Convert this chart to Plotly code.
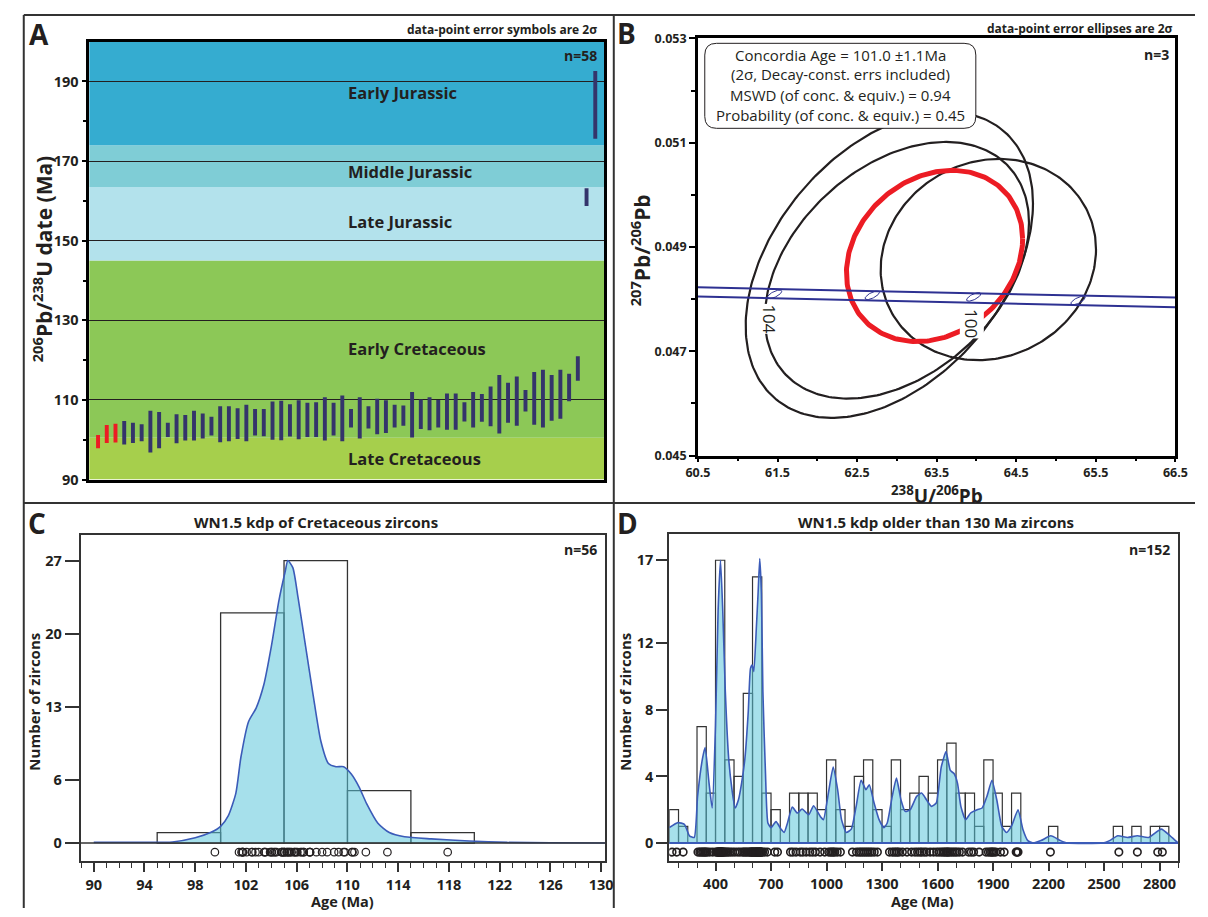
import numpy as np
import plotly.graph_objects as go

W, H = 1208, 917
FONT = "Open Sans"
INK = "#231F20"


def X(p):
    return p / W


def Y(p):
    return 1 - p / H


# ---------------- Panel A data: 206Pb/238U dates (2 sigma bars) ----------------
a_low = [97.9, 99.2, 99.3, 98.8, 99.2, 99.6, 96.8, 97.9, 100.7, 99.1,
         99.8, 99.8, 100.3, 101.1, 99.4, 99.6, 100.2, 99.6, 101.1, 100.9,
         100.0, 99.9, 100.8, 100.1, 100.7, 100.7, 99.8, 101.1, 99.6, 103.1,
         100.3, 102.8, 101.4, 101.7, 103.1, 103.5, 100.6, 102.7, 102.4, 103.1,
         102.5, 102.5, 104.6, 103.1, 104.5, 103.4, 101.6, 104.3, 103.5, 107.1,
         103.8, 103.1, 104.8, 105.3, 109.7, 114.8, 158.7, 175.6]
a_high = [101.2, 103.7, 104.0, 104.7, 104.3, 103.9, 107.3, 107.0, 104.3, 106.4,
          106.2, 107.3, 106.6, 105.8, 108.4, 108.4, 107.9, 108.8, 107.7, 107.7,
          109.6, 109.8, 108.9, 109.9, 109.3, 109.4, 110.7, 109.3, 111.1, 107.7,
          110.7, 108.4, 110.3, 109.9, 108.8, 108.6, 112.0, 110.1, 110.7, 110.0,
          111.6, 111.6, 109.4, 112.0, 111.5, 113.4, 116.3, 114.3, 115.9, 112.5,
          117.0, 117.6, 116.3, 117.6, 116.6, 121.0, 163.2, 192.6]
a_concordant_count = 3          # first three (red) used for the concordia age
a_index = list(range(1, len(a_low) + 1))

period_names = ["Late Cretaceous", "Early Cretaceous", "Late Jurassic",
                "Middle Jurassic", "Early Jurassic"]
period_base = [90, 100.5, 145, 163.5, 174]
period_top = [100.5, 145, 163.5, 174, 200]
period_label_y = [95.2, 122.8, 154.9, 167.5, 187.3]
period_colors = ["#A6CF4C", "#8CC857", "#B3E2EC", "#7FCDD6", "#35ACD0"]

# ---------------- Panel B data: Tera-Wasserburg ----------------
b_cx = [62.905, 63.00, 64.149]
b_cy = [0.048659, 0.048553, 0.048759]
b_ax = [1.805, 1.66, 1.353]
b_ay = [0.002937, 0.002461, 0.00193]
b_rho = [0.40, 0.37, 0.10]
conc_age_ellipse = dict(cx=63.473, cy=0.048828, ax=1.107, ay=0.001642, rho=0.2)
conc_x = [60.5, 66.5]
conc_upper = [0.048227, 0.048030]
conc_lower = [0.048049, 0.047842]
conc_tick_age = [104, 102, 100, 98]
conc_tick_x = [61.463, 62.69, 63.965, 65.276]
conc_tick_y = [0.048092, 0.048073, 0.048043, 0.047974]
conc_label_age = ["104", "100"]
conc_label_x = [61.40, 63.94]
conc_label_y = [0.04762, 0.04753]

# ---------------- Panel C data ----------------
c_bin_left = [95, 100, 105, 110, 115]
c_counts = [1, 22, 27, 5, 1]
c_bin_width = 5
c_kde_age = [90, 94.1, 96.2, 98.0, 99.2, 100.0, 100.6, 101.2, 101.6, 102.2,
             102.8, 103.4, 104.0, 104.6, 105.1, 105.3, 105.7, 106.1, 106.7, 107.3,
             107.9, 108.5, 109.1, 109.7, 110.3, 110.9, 111.5, 112.4, 113.3, 114.5,
             116.6, 119.6, 122.6, 126.0, 130.3]
c_kde_val = [0.06, 0.06, 0.1, 0.5, 1.0, 1.6, 2.6, 4.75, 8.2, 11.6,
             12.9, 15.1, 18.8, 23.2, 26.0, 27.0, 26.3, 23.5, 18.8, 14.1,
             9.75, 7.6, 7.3, 7.3, 6.6, 5.4, 3.8, 1.9, 1.0, 0.6,
             0.4, 0.2, 0.06, 0.02, 0.0]
c_ages = [(lo + hi) / 2 for lo, hi in zip(a_low[:56], a_high[:56])]

# ---------------- Panel D data ----------------
d_bin_width = 50
d_bin_left = list(range(150, 2900, d_bin_width))
d_counts = [2, 1, 0, 7, 3, 17, 5, 4, 9, 16, 3, 2, 0, 3, 3, 3, 2, 5, 2, 1,
            4, 5, 2, 1, 5, 2, 3, 4, 3, 5, 6, 3, 3, 1, 5, 3, 1, 3, 0, 0,
            0, 1, 0, 0, 0, 0, 0, 0, 1, 0, 1, 0, 1, 1, 0]
d_kde_age = [150, 197, 232, 259, 285, 303, 330, 344, 365, 382, 400, 414, 427, 439, 453,
             471, 489, 506, 524, 541, 559, 577, 589, 598, 607, 621, 630, 639, 648, 656,
             670, 683, 700, 727, 754, 771, 789, 815, 842, 868, 904, 930, 966, 983, 1010,
             1036, 1060, 1081, 1107, 1134, 1160, 1187, 1213, 1231, 1257, 1284, 1310, 1328,
             1355, 1378, 1402, 1425, 1452, 1487, 1514, 1540, 1567, 1593, 1620, 1646, 1669,
             1690, 1708, 1726, 1752, 1779, 1814, 1841, 1867, 1894, 1920, 1947, 1973, 2000,
             2035, 2061, 2088, 2115, 2159, 2212, 2265, 2300, 2495, 2530, 2574, 2627, 2680,
             2742, 2809, 2857, 2900]
d_kde_val = [0.92, 1.22, 1.12, 0.43, 0.33, 2.8, 5.1, 5.74, 3.6, 2.1, 7.1, 14.0, 17.0, 14.0, 9.1,
             5.1, 3.2, 2.1, 2.6, 3.6, 5.1, 7.9, 10.5, 10.7, 10.3, 13.0, 15.0, 17.1, 15.0, 9.1,
             4.2, 1.2, 0.92, 1.28, 0.83, 0.63, 1.2, 2.16, 1.8, 2.04, 1.7, 2.24, 1.6, 1.4, 3.0,
             4.56, 3.2, 1.4, 0.63, 0.83, 2.2, 3.77, 3.2, 3.5, 2.4, 1.4, 0.92, 1.2,
             2.8, 3.9, 2.6, 1.9, 2.0, 2.8, 3.0, 2.6, 2.2, 2.4, 4.56, 5.5, 4.36,
             4.16, 3.58, 2.2, 1.4, 1.8, 2.0, 2.1, 2.8, 3.77, 2.6, 1.0, 0.63, 1.02,
             2.0, 0.83, 0.14, 0.0, 0.14, 0.43, 0.14, 0.0, 0.0, 0.14, 0.43, 0.33, 0.43,
             0.33, 0.83, 0.43, 0.0]
d_ages = [165, 190, 225,
          305, 315, 322, 330, 336, 342, 348, 355, 368, 385,
          402, 408, 412, 415, 418, 420, 422, 424, 426, 428, 430, 432, 434, 437, 440, 444, 448,
          455, 462, 470, 480, 492, 505, 520, 532, 545,
          553, 560, 567, 575, 582, 588, 592, 596, 599,
          602, 606, 610, 614, 617, 620, 623, 626, 629, 632, 635, 638, 641, 644, 646, 649,
          655, 665, 680, 720, 735,
          805, 818, 835, 858, 872, 890, 910, 925, 940, 965, 990,
          1012, 1022, 1030, 1037, 1045, 1058, 1075, 1140,
          1162, 1175, 1185, 1195, 1205, 1215, 1225, 1235, 1245, 1258, 1275, 1340,
          1355, 1365, 1375, 1383, 1392, 1410, 1435, 1460, 1478, 1492,
          1505, 1515, 1528, 1540, 1560, 1578, 1595,
          1608, 1620, 1630, 1638, 1646, 1652, 1658, 1665, 1675, 1685, 1695,
          1705, 1718, 1735, 1768, 1782, 1795, 1825,
          1862, 1875, 1885, 1892, 1898, 1905, 1915, 1940, 1960, 2025, 2030, 2035,
          2210, 2580, 2680, 2790, 2815]

# ---------------- helpers ----------------
BLUE = "#3B5BB8"
NAVY = "#2E3192"
BAR_NAVY = "#34346B"
RED = "#EC1C24"
FILL = "rgba(87,196,217,0.53)"


def ellipse(cx, cy, ax, ay, rho, n=260):
    t = np.linspace(0, 2 * np.pi, n)
    xs = cx + ax * np.cos(t)
    ys = cy + ay * (rho * np.cos(t) + np.sqrt(1 - rho ** 2) * np.sin(t))
    return xs, ys


fig = go.Figure()

# ---- Panel A ----
a_colors = [RED if i < a_concordant_count else BAR_NAVY for i in range(len(a_low))]
fig.add_trace(go.Bar(x=a_index, y=[h - l for l, h in zip(a_low, a_high)], base=a_low,
                     width=0.45, marker=dict(color=a_colors, line=dict(width=0)),
                     xaxis="x", yaxis="y"))

# ---- Panel B ----
for cx, cy, ax_, ay_, r in zip(b_cx, b_cy, b_ax, b_ay, b_rho):
    ex, ey = ellipse(cx, cy, ax_, ay_, r)
    fig.add_trace(go.Scatter(x=ex, y=ey, mode="lines", line=dict(color=INK, width=2.2),
                             xaxis="x2", yaxis="y2"))
ex, ey = ellipse(**conc_age_ellipse)
fig.add_trace(go.Scatter(x=ex, y=ey, mode="lines", line=dict(color=RED, width=5),
                         xaxis="x2", yaxis="y2"))
for yy in (conc_upper, conc_lower):
    fig.add_trace(go.Scatter(x=conc_x, y=yy, mode="lines", line=dict(color=NAVY, width=2),
                             xaxis="x2", yaxis="y2"))
for tx, ty in zip(conc_tick_x, conc_tick_y):
    ex, ey = ellipse(tx, ty, 0.09, 0.000082, 0.7, n=60)
    fig.add_trace(go.Scatter(x=ex, y=ey, mode="lines", line=dict(color=NAVY, width=1),
                             xaxis="x2", yaxis="y2"))

# ---- Panel C ----
fig.add_trace(go.Bar(x=[l + c_bin_width / 2 for l in c_bin_left], y=c_counts, width=c_bin_width,
                     marker=dict(color="rgba(0,0,0,0)", line=dict(color="#333333", width=1.3)),
                     xaxis="x3", yaxis="y3"))
fig.add_trace(go.Scatter(x=c_kde_age, y=c_kde_val, mode="lines", fill="tozeroy", fillcolor=FILL,
                         line=dict(color=BLUE, width=1.6, shape="spline", smoothing=0.6),
                         xaxis="x3", yaxis="y3"))
fig.add_trace(go.Scatter(x=c_ages, y=[-0.87] * len(c_ages), mode="markers",
                         marker=dict(symbol="circle-open", size=7.5, color=INK, line=dict(width=1.2)),
                         xaxis="x3", yaxis="y3"))

# ---- Panel D ----
fig.add_trace(go.Bar(x=[l + d_bin_width / 2 for l in d_bin_left], y=d_counts, width=d_bin_width,
                     marker=dict(color="rgba(0,0,0,0)", line=dict(color="#333333", width=1.2)),
                     xaxis="x4", yaxis="y4"))
fig.add_trace(go.Scatter(x=d_kde_age, y=d_kde_val, mode="lines", fill="tozeroy", fillcolor=FILL,
                         line=dict(color=BLUE, width=1.6, shape="spline", smoothing=0.5),
                         xaxis="x4", yaxis="y4"))
fig.add_trace(go.Scatter(x=d_ages, y=[-0.55] * len(d_ages), mode="markers",
                         marker=dict(symbol="circle-open", size=7.5, color=INK, line=dict(width=1.6)),
                         xaxis="x4", yaxis="y4"))

# ---------------- axes ----------------
tickfont = dict(family=FONT, size=14.5, color=INK, weight="bold")
frame = dict(showline=True, mirror=True, linecolor="black", zeroline=False)
frame_g = dict(showline=True, mirror=True, linecolor="#333333", zeroline=False)

fig.update_layout(
    xaxis=dict(domain=[X(78), X(604)], range=[0, 59], showticklabels=False, ticks="",
               showgrid=False, linewidth=2.5, **frame),
    yaxis=dict(domain=[Y(480), Y(33.3)], range=[90, 200], tickvals=[90, 110, 130, 150, 170, 190],
               ticks="outside", ticklen=5, tickwidth=1.5, tickcolor="black",
               showgrid=True, gridcolor=INK, gridwidth=1, tickfont=tickfont,
               minor=dict(tickvals=[100, 120, 140, 160, 180], ticks="outside", ticklen=4,
                          tickwidth=1.5, tickcolor="black", showgrid=False),
               linewidth=2.5, **frame),
    xaxis2=dict(domain=[X(700), X(1188)], range=[60.5, 66.5],
                tickvals=[60.5, 61.5, 62.5, 63.5, 64.5, 65.5, 66.5],
                ticktext=["60.5", "61.5", "62.5", "63.5", "64.5", "65.5", "66.5"],
                ticks="outside", ticklen=4, tickwidth=1.5, tickcolor="black", showgrid=False,
                minor=dict(tickvals=[61, 62, 63, 64, 65, 66], ticks="outside", ticklen=3,
                           tickwidth=1.5, tickcolor="black"),
                tickfont=dict(family=FONT, size=12.5, color=INK, weight="bold"),
                linewidth=2.5, anchor="y2", **frame),
    yaxis2=dict(domain=[Y(455.5), Y(30)], range=[0.045, 0.053],
                tickvals=[0.045, 0.047, 0.049, 0.051, 0.053],
                ticktext=["0.045", "0.047", "0.049", "0.051", "0.053"],
                ticks="outside", ticklen=6, tickwidth=1.5, tickcolor="black", showgrid=False,
                minor=dict(tickvals=[0.046, 0.048, 0.050, 0.052], ticks="outside", ticklen=4,
                           tickwidth=1.5, tickcolor="black"),
                tickfont=dict(family=FONT, size=12.5, color=INK, weight="bold"),
                linewidth=2.5, anchor="x2", **frame),
    xaxis3=dict(domain=[X(69.3), X(605)], range=[88.98, 130.3], tickvals=list(range(90, 131, 4)),
                ticks="outside", ticklen=9, tickwidth=1.5, tickcolor="#333333", showgrid=False,
                minor=dict(tick0=90, dtick=1, ticks="outside", ticklen=5, tickwidth=1.2,
                           tickcolor="#333333"),
                tickfont=tickfont, linewidth=2, anchor="y3", **frame_g),
    yaxis3=dict(domain=[Y(869.3), Y(536.7)], range=[-1.74, 29.43], tickvals=[0, 6, 13, 20, 27],
                ticks="outside", ticklen=14, tickwidth=1.5, tickcolor="#333333", showgrid=False,
                tickfont=tickfont, linewidth=2, anchor="x3", **frame_g),
    xaxis4=dict(domain=[X(670.7), X(1190.7)], range=[150, 2900],
                tickvals=list(range(400, 2801, 300)),
                ticks="outside", ticklen=8, tickwidth=1.5, tickcolor="#333333", showgrid=False,
                minor=dict(tick0=0, dtick=100, ticks="outside", ticklen=5, tickwidth=1.2,
                           tickcolor="#333333"),
                tickfont=tickfont, linewidth=2, anchor="y4", **frame_g),
    yaxis4=dict(domain=[Y(869.3), Y(536)], range=[-1.1, 18.55], tickvals=[0, 4, 8, 12, 17],
                ticks="outside", ticklen=11, tickwidth=1.5, tickcolor="#333333", showgrid=False,
                tickfont=tickfont, linewidth=2, anchor="x4", **frame_g),
)

# ---------------- shapes ----------------
shapes = []
for b, t, c in zip(period_base, period_top, period_colors):
    shapes.append(dict(type="rect", xref="x domain", yref="y", x0=0, x1=1, y0=b, y1=t,
                       fillcolor=c, line=dict(width=0), layer="below"))
shapes.append(dict(type="line", xref="x3 domain", yref="y3", x0=0, x1=1, y0=0, y1=0,
                   line=dict(color="#333333", width=1.6), layer="above"))
shapes.append(dict(type="line", xref="x4 domain", yref="y4", x0=0, x1=1, y0=0, y1=0,
                   line=dict(color=BLUE, width=2), layer="above"))


def P(x, y):
    return f"{X(x):.5f},{Y(y):.5f}"


bx0, by0, bx1, by1, r = 707, 35, 984, 121.7, 12
path = (f"M{P(bx0 + r, by0)} L{P(bx1 - r, by0)} Q{P(bx1, by0)} {P(bx1, by0 + r)} "
        f"L{P(bx1, by1 - r)} Q{P(bx1, by1)} {P(bx1 - r, by1)} L{P(bx0 + r, by1)} "
        f"Q{P(bx0, by1)} {P(bx0, by1 - r)} L{P(bx0, by0 + r)} Q{P(bx0, by0)} {P(bx0 + r, by0)} Z")
shapes.append(dict(type="path", path=path, xref="paper", yref="paper", fillcolor="white",
                   line=dict(color=INK, width=1), layer="above"))

for x0, y0, x1, y1 in [(11, 6, 1208, 6), (11, 6, 11, 917), (614, 6, 614, 917), (11, 504, 1208, 504)]:
    shapes.append(dict(type="line", xref="paper", yref="paper", x0=X(x0), y0=Y(y0), x1=X(x1),
                       y1=Y(y1), line=dict(color="#333333", width=2)))

# ---------------- annotations ----------------
ann = []


def A(text, x, y, size, bold=True, xanchor="center", yanchor="middle", angle=0):
    ann.append(dict(text=text, x=X(x), y=Y(y), xref="paper", yref="paper", showarrow=False,
                    xanchor=xanchor, yanchor=yanchor, textangle=angle,
                    font=dict(family=FONT, size=size, color=INK,
                              weight="bold" if bold else "normal")))


# Panel A
A("A", 27, 26, 28)
A("data-point error symbols are 2σ", 599, 21, 12, xanchor="right")
A("n=58", 599, 47, 14, xanchor="right")
for name, yv in zip(period_names, period_label_y):
    ann.append(dict(text=name, x=X(340), y=yv, xref="paper", yref="y", showarrow=False,
                    font=dict(family=FONT, size=16.5, color=INK, weight="bold")))
A("<sup>206</sup>Pb/<sup>238</sup>U date (Ma)", 31, 255, 21, angle=-90)

# Panel B
A("B", 627, 24, 28)
A("data-point error ellipses are 2σ", 1188, 20, 12, xanchor="right")
A("n=3", 1183, 46, 14, xanchor="right")
box_lines = ["Concordia Age = 101.0 ±1.1Ma", "(2σ, Decay-const. errs included)",
             "MSWD (of conc. &amp; equiv.) = 0.94", "Probability (of conc. &amp; equiv.) = 0.45"]
for txt, yy in zip(box_lines, [46.7, 66.7, 87.3, 108.3]):
    A(txt, 845.5, yy, 15, bold=False)
A("<sup>207</sup>Pb/<sup>206</sup>Pb", 641, 246, 21, angle=-90)
A("<sup>238</sup>U/<sup>206</sup>Pb", 944, 479, 19, yanchor="top")
for txt, lx, ly in zip(conc_label_age, conc_label_x, conc_label_y):
    ann.append(dict(text=txt, x=lx, y=ly, xref="x2", yref="y2", showarrow=False, textangle=90,
                    bgcolor="white", borderpad=0,
                    font=dict(family=FONT, size=17, color=INK, weight="normal")))

# Panel C
A("C", 25, 524, 28)
A("WN1.5 kdp of Cretaceous zircons", 310, 523.5, 15)
A("n=56", 599, 551, 14, xanchor="right")
A("Number of zircons", 22, 707, 15, angle=-90)
A("Age (Ma)", 337, 910, 14.5)

# Panel D
A("D", 628, 524, 28)
A("WN1.5 kdp older than 130 Ma zircons", 943, 523, 15)
A("n=152", 1184, 551.7, 14, xanchor="right")
A("Number of zircons", 626, 707, 15, angle=-90)
A("Age (Ma)", 930, 910, 14.5)

fig.update_layout(width=W, height=H, margin=dict(l=0, r=0, t=0, b=0),
                  paper_bgcolor="white", plot_bgcolor="white", showlegend=False,
                  barmode="overlay", shapes=shapes, annotations=ann,
                  font=dict(family=FONT, color=INK))

fig.write_html("out.html", config={"displayModeBar": False},
               post_script="document.body.style.margin='0px';document.body.style.overflow='hidden';")
